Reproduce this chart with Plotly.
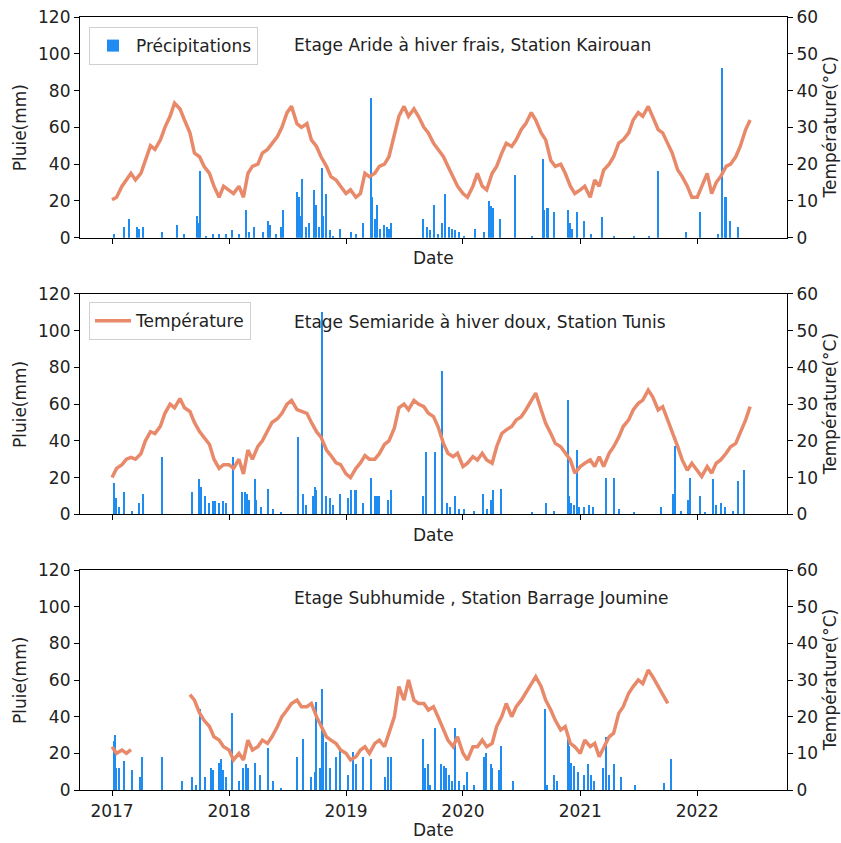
import pandas as pd
import plotly.graph_objects as go

# ----- Data ----- #
stations = [
    "Etage Aride à hiver frais, Station Kairouan",
    "Etage Semiaride à hiver doux, Station Tunis",
    "Etage Subhumide , Station Barrage Joumine",
]

# temperature, read twice a month (1st and 15th), Jan 2017 -> Jun 2022
temp_dates = pd.date_range("2017-01-01", "2022-06-15", freq="SMS")

temp_kairouan = (
    [10.3, 11, 14, 15.7, 17.5, 15.7, 17.5, 21, 25, 24, 26.6, 30, 33, 36.6, 35, 32, 28.5, 23, 22, 19.4, 17.5, 14, 11, 14]
    + [13, 12, 14, 11, 17.5, 19.4, 20, 23, 24, 25.7, 27.5, 30, 34, 35.7, 31, 30, 31, 26.6, 24.8, 22, 19.4, 16.6, 15.7, 14]
    + [12, 13, 11, 12, 17.5, 16.6, 17.5, 19.4, 20, 22, 28.5, 33, 35.7, 33, 35, 33, 30, 28.5, 25.7, 24, 22, 19.4, 16.6, 14]
    + [12, 11, 14, 17.5, 14, 13, 17.5, 19.4, 23, 25.7, 24.8, 26.6, 29.4, 31, 34, 32, 28.5, 26.6, 21, 19.4, 20, 17.5, 14, 12]
    + [13, 14, 11, 15.7, 14, 18.4, 20, 22, 25.7, 26.6, 28.5, 32, 34, 33, 35.7, 33, 29.4, 28.5, 25.7, 23, 18.4, 16.6, 14, 11]
    + [11, 14, 17.5, 12, 15, 16.6, 19.4, 20, 22, 24.8, 29.4, 32]
)
temp_tunis = (
    [10, 12.5, 13.5, 15, 15.5, 15, 16.5, 20, 22.5, 22, 24, 27.5, 30, 29, 31.5, 29, 28, 25, 22.5, 21, 19, 15, 12.5, 13.5]
    + [13.5, 12.5, 15, 11, 17.5, 15, 18.5, 20, 22.5, 25, 26, 27.5, 30, 31, 28.5, 28, 27.5, 25, 22.5, 21, 17.5, 16, 14, 13.5]
    + [11, 10, 12.5, 14, 16, 15, 15, 16.5, 19, 20, 23.5, 29, 30, 28.5, 31, 30, 29.3, 27.5, 26.6, 23.9, 19.3, 16.6, 15.7, 16.6]
    + [13, 13.9, 15.7, 14.8, 16.6, 14.8, 13.9, 18.4, 22, 23, 23.9, 25.7, 26.6, 28.4, 31.1, 33, 28.4, 24.8, 22, 19.3, 18.4, 16.6, 14.8, 11.2]
    + [13, 13.9, 14.8, 13, 15.7, 13, 16.6, 18.4, 21, 23.9, 25.7, 28.4, 30.2, 31.1, 33.8, 32, 28.4, 29.3, 25.7, 22, 18.4, 14.8, 12, 13.9]
    + [12, 10.3, 13, 11.2, 13.9, 14.8, 16.6, 18.4, 19.3, 22, 25.7, 29.3]
)
temp_joumine = (
    [11.8, 10, 10.9, 10, 11, None, None, None, None, None, None, None,
     None, None, None, None, 26, 24.5, 21, 19, 17.3, 14.5, 13.6, 11.8]
    + [10.9, 8.2, 10, 8.2, 13.6, 10.9, 11.8, 13.6, 12.7, 14.5, 17.3, 20, 21.8, 23.6, 24.5, 22.7, 22.7, 23.6, 20, 17.3, 14.5, 13.6, 12.7, 10.9]
    + [10, 8.2, 9.1, 10.9, 11.8, 10, 12.7, 13.6, 11.8, 15.5, 20, 28.2, 24.5, 30, 24.5, 23.6, 23.6, 21.8, 22.7, 20, 16.4, 13.6, 11.8, 14.5]
    + [10, 8.2, 11.8, 11.8, 13.6, 11.8, 12.7, 17.3, 20, 23.6, 20, 22.7, 24.5, 26.4, 29, 30.9, 28.2, 24.5, 21.8, 19, 16.4, 17.3, 12.7, 11.8]
    + [10, 13.6, 11.8, 12.7, 9.1, 11.8, 14.5, 15.5, 20.9, 22.7, 26.4, 28.2, 30, 29, 32.7, 30.9, 28.2, 26.4, 23.6, None, None, None, None, None]
    + [None] * 12
)

# daily rainfall events (mm)
rain_dates_kairouan = [
    "2017-01-06", "2017-02-08", "2017-02-24", "2017-03-19", "2017-03-27", "2017-04-07", "2017-06-06",
    "2017-07-23", "2017-08-15", "2017-09-24", "2017-09-29", "2017-10-04", "2017-10-22", "2017-11-12",
    "2017-12-02", "2017-12-23", "2018-01-11", "2018-02-03", "2018-02-22", "2018-03-06", "2018-03-19",
    "2018-04-17", "2018-05-04", "2018-05-10", "2018-05-29", "2018-06-14", "2018-06-19", "2018-08-03",
    "2018-08-08", "2018-08-13", "2018-08-18", "2018-08-29", "2018-09-08", "2018-09-23", "2018-10-01",
    "2018-10-09", "2018-10-17", "2018-10-22", "2018-11-01", "2018-11-12", "2018-11-22", "2018-12-13",
    "2019-01-18", "2019-02-03", "2019-02-24", "2019-03-20", "2019-03-25", "2019-04-01", "2019-04-09",
    "2019-04-17", "2019-05-01", "2019-05-08", "2019-05-16", "2019-05-23", "2019-08-31", "2019-09-11",
    "2019-09-21", "2019-10-04", "2019-10-14", "2019-10-28", "2019-11-07", "2019-11-18", "2019-11-28",
    "2019-12-09", "2019-12-19", "2020-01-04", "2020-02-07", "2020-03-07", "2020-03-23", "2020-03-30",
    "2020-04-05", "2020-04-26", "2020-06-11", "2020-08-05", "2020-09-06", "2020-09-11", "2020-09-19",
    "2020-09-24", "2020-10-12", "2020-11-23", "2020-12-01", "2020-12-08", "2020-12-22", "2021-01-14",
    "2021-02-04", "2021-03-10", "2021-04-17", "2021-06-18", "2021-08-03", "2021-08-31", "2021-11-27",
    "2022-01-11", "2022-03-07", "2022-03-20", "2022-03-28", "2022-04-02", "2022-04-15", "2022-05-08",
]
rain_kairouan = [
    2, 6, 10, 6, 5, 6, 3,
    7, 2, 12, 8, 36, 1, 2,
    2, 2, 4, 2, 15, 3, 6,
    3, 9, 7, 2, 6, 15, 25,
    22, 12, 32, 6, 8, 26, 18,
    6, 38, 12, 24, 4, 1, 5,
    3, 2, 8, 76, 22, 10, 18,
    5, 7, 6, 5, 8, 10, 6,
    4, 18, 2, 8, 24, 6, 5,
    4, 3, 1, 5, 3, 20, 17,
    16, 10, 34, 1, 43, 15, 16,
    16, 14, 15, 8, 5, 14, 9,
    2, 11, 1, 1, 1, 36, 3,
    14, 2, 92, 22, 22, 9, 6,
]

rain_dates_tunis = [
    "2017-01-06", "2017-01-10", "2017-01-15", "2017-01-23", "2017-02-09", "2017-03-06", "2017-03-27",
    "2017-04-07", "2017-06-06", "2017-09-08", "2017-10-01", "2017-10-06", "2017-10-20", "2017-11-01",
    "2017-11-12", "2017-11-20", "2017-12-02", "2017-12-13", "2017-12-23", "2018-01-13", "2018-02-10",
    "2018-02-19", "2018-02-26", "2018-03-06", "2018-03-22", "2018-03-27", "2018-04-11", "2018-05-03",
    "2018-05-18", "2018-06-14", "2018-08-06", "2018-08-20", "2018-08-31", "2018-09-21", "2018-09-26",
    "2018-10-01", "2018-10-17", "2018-11-01", "2018-11-12", "2018-11-22", "2018-12-13", "2019-01-08",
    "2019-01-18", "2019-01-29", "2019-02-03", "2019-02-22", "2019-03-20", "2019-04-01", "2019-04-09",
    "2019-04-14", "2019-05-13", "2019-05-23", "2019-08-31", "2019-09-09", "2019-10-07", "2019-10-28",
    "2019-11-13", "2019-11-23", "2019-12-09", "2019-12-19", "2020-01-04", "2020-02-04", "2020-03-05",
    "2020-03-17", "2020-03-30", "2020-04-05", "2020-04-28", "2020-08-05", "2020-09-16", "2020-10-12",
    "2020-11-23", "2020-11-28", "2020-12-05", "2020-12-13", "2020-12-22", "2020-12-29", "2021-01-14",
    "2021-01-29", "2021-02-09", "2021-03-22", "2021-04-17", "2021-05-03", "2021-06-18", "2021-09-10",
    "2021-10-17", "2021-10-24", "2021-11-12", "2021-12-02", "2021-12-11", "2022-01-11", "2022-01-25",
    "2022-02-19", "2022-03-01", "2022-03-17", "2022-03-28", "2022-04-22", "2022-05-08", "2022-05-27",
]
rain_tunis = [
    17, 8, 9, 4, 12, 2, 6,
    11, 31, 12, 19, 15, 10, 6,
    7, 7, 6, 7, 6, 31, 12,
    12, 11, 8, 19, 8, 4, 14,
    3, 1, 42, 11, 5, 10, 15,
    13, 110, 10, 9, 5, 11, 9,
    13, 13, 13, 6, 20, 10, 10,
    10, 8, 13, 10, 34, 34, 78,
    6, 4, 10, 3, 3, 2, 11,
    3, 8, 13, 14, 1, 6, 2,
    62, 10, 6, 5, 35, 4, 4,
    5, 4, 20, 20, 3, 1, 4,
    11, 37, 2, 8, 20, 10, 1,
    19, 5, 6, 4, 2, 18, 24,
]

rain_dates_joumine = [
    "2017-01-06", "2017-01-11", "2017-01-15", "2017-01-23", "2017-02-07", "2017-03-06", "2017-03-29",
    "2017-04-04", "2017-06-06", "2017-08-08", "2017-09-08", "2017-09-21", "2017-10-03", "2017-10-17",
    "2017-11-07", "2017-11-12", "2017-11-30", "2017-12-07", "2017-12-15", "2017-12-23", "2018-01-11",
    "2018-02-03", "2018-02-13", "2018-02-22", "2018-03-01", "2018-03-22", "2018-04-08", "2018-05-03",
    "2018-05-18", "2018-06-14", "2018-08-03", "2018-08-20", "2018-09-15", "2018-09-26", "2018-10-01",
    "2018-10-12", "2018-10-17", "2018-10-22", "2018-11-01", "2018-11-12", "2018-11-30", "2018-12-13",
    "2019-01-08", "2019-01-24", "2019-02-03", "2019-02-24", "2019-03-20", "2019-05-03", "2019-05-11",
    "2019-05-23", "2019-08-29", "2019-09-06", "2019-09-13", "2019-09-21", "2019-10-07", "2019-10-25",
    "2019-11-02", "2019-11-10", "2019-11-18", "2019-11-28", "2019-12-09", "2019-12-19", "2020-01-04",
    "2020-01-14", "2020-02-04", "2020-03-07", "2020-03-12", "2020-03-28", "2020-04-02", "2020-04-23",
    "2020-04-28", "2020-06-04", "2020-09-13", "2020-09-21", "2020-10-12", "2020-10-22", "2020-11-23",
    "2020-11-28", "2020-12-05", "2020-12-13", "2020-12-24", "2021-01-14", "2021-01-24", "2021-02-04",
    "2021-02-14", "2021-03-12", "2021-03-22", "2021-04-02", "2021-04-17", "2021-05-08", "2021-06-21",
    "2021-09-20", "2021-10-11",
]
rain_joumine = [
    27, 30, 12, 12, 16, 11, 7,
    18, 18, 5, 7, 3, 44, 7,
    12, 11, 15, 17, 11, 7, 42,
    5, 12, 14, 12, 15, 8, 23,
    5, 1, 18, 28, 7, 10, 48,
    12, 55, 32, 26, 12, 18, 22,
    8, 21, 14, 18, 17, 7, 18,
    18, 28, 12, 14, 3, 34, 14,
    13, 12, 8, 5, 34, 5, 3,
    10, 3, 18, 20, 14, 12, 11,
    24, 5, 44, 3, 8, 5, 28,
    24, 15, 13, 10, 8, 14, 8,
    5, 12, 29, 8, 14, 7, 3,
    4, 17,
]

rain_series = [
    (rain_dates_kairouan, rain_kairouan),
    (rain_dates_tunis, rain_tunis),
    (rain_dates_joumine, rain_joumine),
]
temp_series = [temp_kairouan, temp_tunis, temp_joumine]

years = ["2017", "2018", "2019", "2020", "2021", "2022"]
rain_ticks = [0, 20, 40, 60, 80, 100, 120]
temp_ticks = [0, 10, 20, 30, 40, 50, 60]

BLUE = "#1E8CF0"
SALMON = "#E8896A"
TXT = "#222222"
FONT = "DejaVu Sans"
FS = 17

# panel boxes (bottom, top) inside the plot area
domains = [(0.7145, 1.0), (0.3567, 0.6417), (0.0, 0.2846)]

fig = go.Figure()

for i in range(3):
    n = i + 1
    xa = "x" if n == 1 else f"x{n}"
    ya_rain = "y" if n == 1 else f"y{n}"
    ya_temp = f"y{n + 3}"
    dates, rain = rain_series[i]

    fig.add_trace(
        go.Bar(
            x=pd.to_datetime(dates),
            y=rain,
            width=4 * 86400000,
            marker=dict(color=BLUE, line=dict(width=0)),
            name="Précipitations",
            showlegend=(i == 0),
            legend="legend",
            xaxis=xa,
            yaxis=ya_rain,
        )
    )
    fig.add_trace(
        go.Scatter(
            x=temp_dates,
            y=temp_series[i],
            mode="lines",
            line=dict(color=SALMON, width=3.5),
            connectgaps=False,
            name="Température",
            showlegend=(i == 1),
            legend="legend2",
            xaxis=xa,
            yaxis=ya_temp,
        )
    )

axis_common = dict(
    showline=True,
    linecolor="black",
    linewidth=1.2,
    ticks="outside",
    ticklen=5,
    tickcolor="black",
    showgrid=False,
    zeroline=False,
    automargin=False,
    tickfont=dict(family=FONT, size=FS, color=TXT),
)

layout = dict(
    width=841,
    height=843,
    margin=dict(l=80, r=54, t=17, b=53),
    paper_bgcolor="white",
    plot_bgcolor="white",
    bargap=0,
    font=dict(family=FONT, size=FS, color=TXT),
)

for i in range(3):
    n = i + 1
    xkey = "xaxis" if n == 1 else f"xaxis{n}"
    ykey = "yaxis" if n == 1 else f"yaxis{n}"
    ykey_t = f"yaxis{n + 3}"
    yref = "y" if n == 1 else f"y{n}"
    xref = "x" if n == 1 else f"x{n}"

    layout[xkey] = dict(
        axis_common,
        domain=[0, 1],
        anchor=yref,
        type="date",
        range=["2016-09-23", "2022-10-08"],
        tickvals=pd.to_datetime([y + "-01-01" for y in years]),
        ticktext=years,
        showticklabels=(n == 3),
        mirror=True,
    )
    layout[ykey] = dict(
        axis_common,
        domain=list(domains[i]),
        anchor=xref,
        range=[0, 120],
        tickvals=rain_ticks,
    )
    layout[ykey_t] = dict(
        axis_common,
        overlaying=yref,
        side="right",
        anchor=xref,
        range=[0, 60],
        tickvals=temp_ticks,
    )

legend_style = dict(
    bgcolor="rgba(255,255,255,0.8)",
    bordercolor="#d0d0d0",
    borderwidth=1,
    font=dict(family=FONT, size=FS, color=TXT),
    xanchor="left",
    yanchor="top",
    itemwidth=36,
)
layout["legend"] = dict(legend_style, x=0.0127, y=0.987)
layout["legend2"] = dict(legend_style, x=0.0127, y=0.631)

fig.update_layout(**layout)


def label(text, x, y, angle=0, xanchor="center"):
    fig.add_annotation(
        text=text,
        xref="paper",
        yref="paper",
        x=x,
        y=y,
        xanchor=xanchor,
        yanchor="middle",
        textangle=angle,
        showarrow=False,
        font=dict(family=FONT, size=FS, color=TXT),
    )


# station labels inside each panel
station_y = [0.9638, 0.6054, 0.2484]
date_y = [0.6882, 0.3299, -0.0517]
for i, name in enumerate(stations):
    lo, hi = domains[i]
    mid = (lo + hi) / 2
    label(name, 0.2999, station_y[i], xanchor="left")
    label("Date", 0.5, date_y[i])
    label("Pluie(mm)", -0.0849, mid, angle=-90)
    label("Température(°C)", 1.061, mid, angle=-90)

# page body has a default 8px margin; drop it so the figure sits at 0,0
fig.write_html(
    "out.html",
    config={"displayModeBar": False},
    post_script="document.body.style.margin='0';",
)
